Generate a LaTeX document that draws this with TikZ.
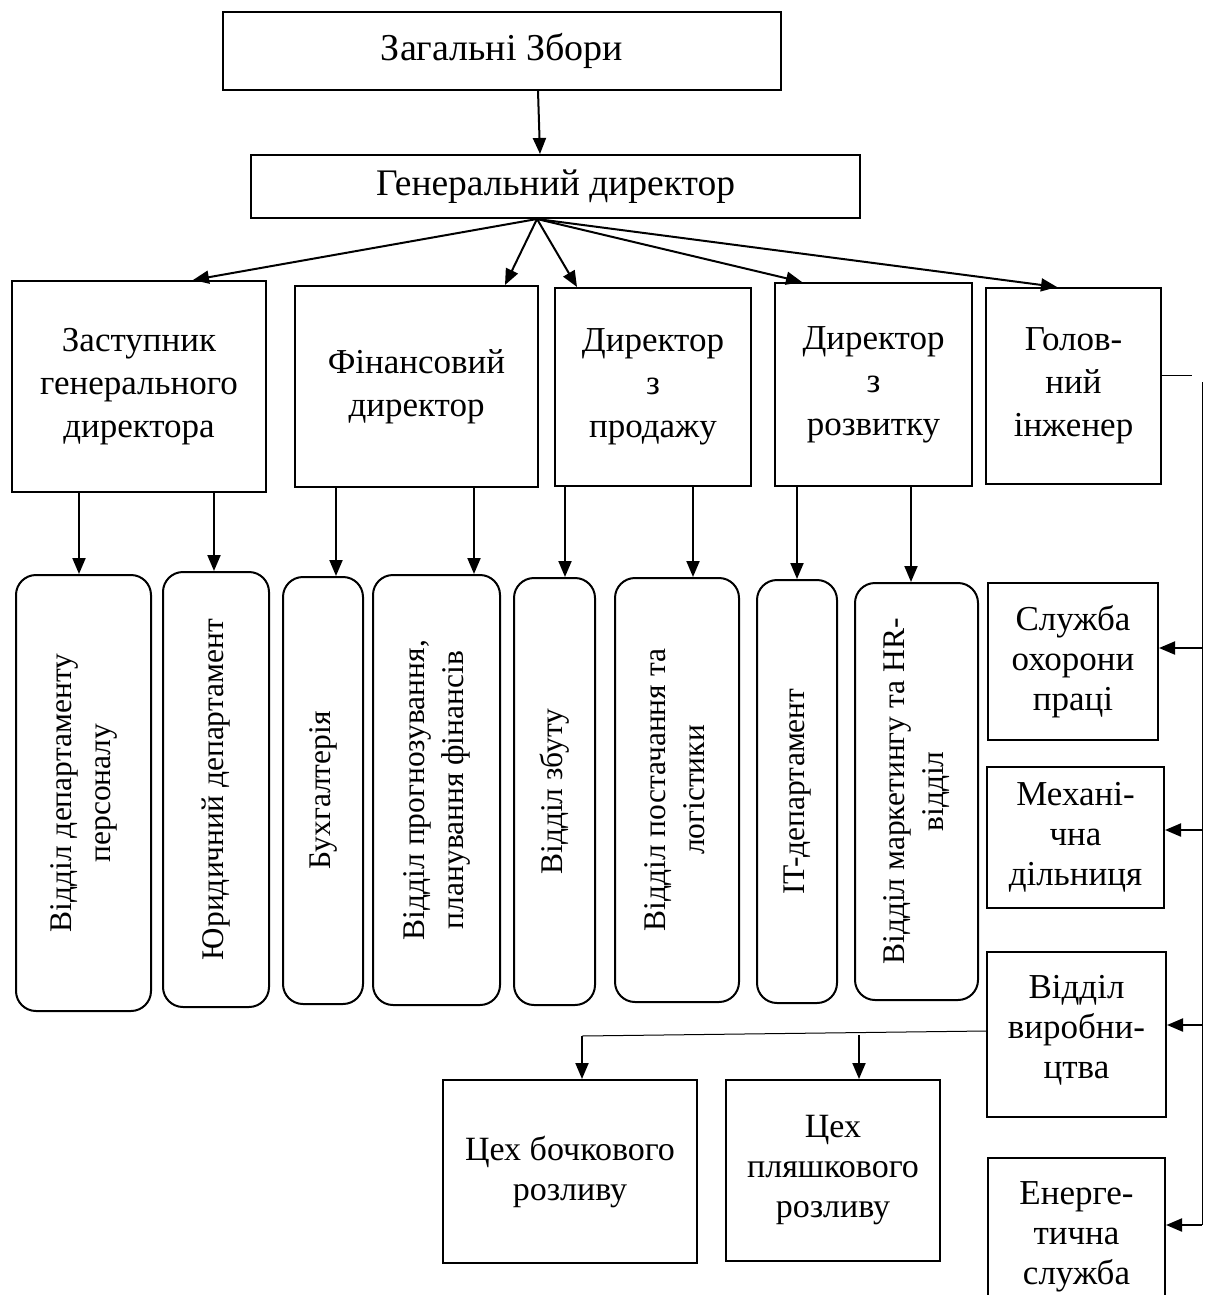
\documentclass[tikz,border=0pt]{standalone}
\usepackage{fontspec}
\setmainfont{Liberation Serif}
\usepackage{graphicx}
\usetikzlibrary{arrows.meta}

\newcommand{\vlabel}[1]{\rotatebox{90}{\begin{tabular}{@{}c@{}}#1\end{tabular}}}

\tikzset{
  box/.style={draw, line width=1pt, align=center, inner sep=1pt},
  dirbox/.style={box, font=\fontsize{17.5pt}{21.5pt}\selectfont},
  rbox/.style={box, rounded corners=10pt, font=\fontsize{15.75pt}{19.5pt}\selectfont},
  wh/.style 2 args={minimum width=#1*0.5pt, minimum height=#2*0.5pt},
  arr/.style={-{Triangle[length=8pt,width=6.5pt]}, line width=1pt},
  thinline/.style={line width=0.5pt}
}

\begin{document}
\begin{tikzpicture}[x=0.5pt, y=-0.5pt, font=\fontsize{17.5pt}{20pt}\selectfont]
  \useasboundingbox (0,0) rectangle (1210,1295);

  % Top levels
  \node[box, wh={558}{78}, font=\fontsize{19pt}{22pt}\selectfont] (zbory) at (502,51) {Загальні Збори};
  \node[box, wh={609}{63}, font=\fontsize{18.75pt}{22pt}\selectfont] (gendir) at (555.5,186.5) {Генеральний директор};

  % Directors
  \node[dirbox, wh={254}{211}] (zast) at (139,386.5) {Заступник\\генерального\\директора};
  \node[dirbox, wh={243}{201}] (findir) at (416.5,386.5) {Фінансовий\\директор};
  \node[dirbox, wh={196}{198}] (prodir) at (653,387) {Директор\\з\\продажу};
  \node[dirbox, wh={197}{203}] (rozdir) at (873.5,384.5) {Директор\\з\\розвитку};
  \node[dirbox, wh={175}{196}] (inzh) at (1073.5,386) {Голов-\\ний\\інженер};

  % Departments
  \node[rbox, wh={135}{436}] (pers) at (83.5,793) {\vlabel{Відділ департаменту\\персоналу}};
  \node[rbox, wh={106}{435}] (yur) at (216,789.5) {\vlabel{Юридичний департамент}};
  \node[rbox, wh={80}{427}] (buh) at (323,790.5) {\vlabel{Бухгалтерія}};
  \node[rbox, wh={127}{430}] (prog) at (436.5,790) {\vlabel{Відділ прогнозування,\\планування фінансів}};
  \node[rbox, wh={81}{427}] (zbut) at (554.5,791.5) {\vlabel{Відділ збуту}};
  \node[rbox, wh={124}{424}] (post) at (677,790) {\vlabel{Відділ постачання та\\логістики}};
  \node[rbox, wh={80}{423}] (itdep) at (797,791.5) {\vlabel{IT-департамент}};
  \node[rbox, wh={123}{417}] (mark) at (916.5,791.5) {\vlabel{Відділ маркетингу та HR-\\відділ}};

  % Chief engineer units
  \node[box, wh={170}{157}] (ohor) at (1073,661.5) {Служба\\охорони\\праці};
  \node[box, wh={177}{141}] (mech) at (1075.5,837.5) {Механі-\\чна\\дільниця};
  \node[box, wh={179}{165}] (vyrob) at (1076.5,1034.5) {Відділ\\виробни-\\цтва\\[-12pt]};
  \node[box, wh={177}{158}] (energ) at (1076.5,1237) {Енерге-\\тична\\служба};

  % Workshops
  \node[box, wh={254}{183}, font=\fontsize{17pt}{20pt}\selectfont] (bochk) at (570,1171.5) {Цех бочкового\\розливу};
  \node[box, wh={214}{181}, font=\fontsize{17pt}{20pt}\selectfont] (plyash) at (833,1170.5) {Цех\\пляшкового\\розливу};

  % Arrows
  \draw[arr] (zbory.south -| 538,0) -- (gendir.north -| 540,0);
  \coordinate (fan) at (gendir.south -| 537,0);
  \foreach \n/\x in {zast/193, findir/505, prodir/577, rozdir/802, inzh/1057}
    \draw[arr] (fan) -- (\n.north -| \x,0);
  \foreach \a/\b/\x in {zast/pers/79, zast/yur/214, findir/buh/336, findir/prog/474,
      prodir/zbut/565, prodir/post/693, rozdir/itdep/797, rozdir/mark/911}
    \draw[arr] (\a.south -| \x,0) -- (\b.north -| \x,0);

  % Right bus
  \coordinate (stub) at (1192,375);
  \coordinate (bustop) at (1202,382);
  \coordinate (busend) at (1202,1225);
  \draw[thinline] (inzh.east |- stub) -- (stub);
  \draw[thinline] (bustop) -- (busend);
  \foreach \n/\y in {ohor/648, mech/830, vyrob/1025, energ/1225}
    \draw[arr] (bustop |- 0,\y) -- (\n.east |- 0,\y);

  % Production split
  \coordinate (split) at (582,1036);
  \coordinate (split2) at (859,1035);
  \draw[thinline] (vyrob.west |- 0,1031) -- (split);
  \draw[arr] (split) -- (bochk.north -| split);
  \draw[arr] (split2) -- (plyash.north -| split2);
\end{tikzpicture}
\end{document}
